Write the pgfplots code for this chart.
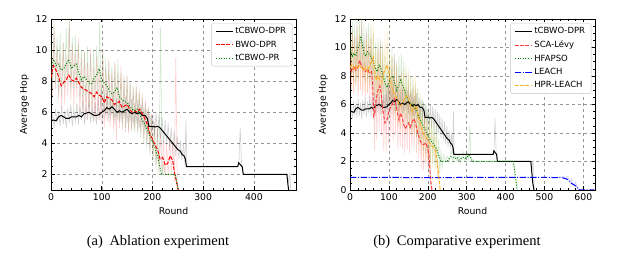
\documentclass[border=0pt]{standalone}
\usepackage{pgfplots}
\pgfplotsset{compat=1.18}
\usepackage{fontspec}
\setmainfont{DejaVu Sans}
\newfontfamily\capfont{Liberation Serif}
\definecolor{mplgreen}{RGB}{0,128,0}
\definecolor{mplorange}{RGB}{255,165,0}
\definecolor{lightred}{RGB}{255,60,60}
\definecolor{lightorange}{RGB}{255,178,40}
\definecolor{gridgray}{RGB}{150,150,150}

\pgfplotstableread{
x y
0 5.5
5 5.5
10 5.45
15 5.7
20 5.8
25 5.7
30 5.6
35 5.6
40 5.7
45 5.7
50 5.7
55 5.8
60 5.7
65 5.9
70 5.95
75 6.0
80 5.9
85 5.8
90 5.8
95 5.85
100 6.0
105 6.1
110 6.3
115 6.2
120 6.35
125 6.2
130 6.0
135 6.1
140 6.0
145 6.1
150 6.2
155 6.0
160 5.9
165 6.0
170 5.9
175 6.0
180 5.8
185 5.8
190 5.6
193 5.1
200 5.1
205 5.05
210 5.1
215 5.0
220 4.8
225 4.6
230 4.4
235 4.2
240 4.0
245 3.8
250 3.6
255 3.5
258 3.3
262 3.2
265 3.0
267 2.5
368 2.5
370 2.75
374 2.6
377 2.5
379 2.0
465 2.0
470 0.5
473 0
}\blackmean

\pgfplotstableread{
x y
0 5.2
3 5.9
6 5.0
9 6.2
12 5.3
15 6.0
18 5.1
21 6.4
24 5.2
27 6.1
30 5.0
33 6.3
36 5.3
39 6.5
42 5.1
45 6.2
48 5.4
51 6.6
54 5.2
57 6.4
60 5.5
63 6.8
66 5.2
69 6.5
72 5.5
75 6.9
78 5.3
81 6.4
84 5.4
87 6.7
90 5.2
93 7.0
96 5.5
99 7.5
102 5.3
105 7.2
108 5.6
111 7.6
114 5.4
117 7.0
120 5.8
123 7.3
126 5.2
129 6.9
132 5.5
135 7.1
138 5.4
141 6.8
144 5.6
147 7.0
150 5.3
153 6.7
156 5.4
159 6.9
162 5.2
165 6.6
168 5.3
171 6.8
174 5.0
177 6.5
180 5.1
183 6.3
186 4.8
189 6.2
192 4.6
195 6.0
198 4.7
201 5.8
204 4.5
207 6.0
210 4.4
213 5.9
216 4.3
219 5.7
222 4.0
225 5.5
228 3.9
231 5.3
234 3.6
237 5.0
240 3.5
243 4.8
246 3.2
249 4.5
252 3.0
255 4.2
258 2.9
261 4.0
264 2.6
266 5.5
268 2.5
370 2.5
373 5.0
376 2.5
380 2.0
465 2.0
468 1.5
471 2.1
474 0
}\blackraw

\pgfplotstableread{
x y
0 8.2
3 8.8
5 9.0
10 8.7
15 8.3
20 7.7
25 7.9
30 8.1
35 8.4
40 8.1
45 8.0
50 8.2
55 7.9
60 7.6
65 7.5
70 7.4
75 7.3
80 7.2
85 7.0
90 7.3
95 7.1
100 7.0
105 6.6
110 7.0
115 6.9
120 6.8
125 6.5
130 6.6
135 6.7
140 6.3
145 6.4
150 6.5
155 6.2
160 6.0
165 6.1
170 6.0
175 6.2
180 5.9
185 5.6
190 5.2
195 4.6
200 4.3
205 3.9
210 3.6
215 3.0
220 3.1
225 2.6
230 2.7
235 3.2
240 2.9
243 2.2
247 1.6
251 1.0
254 0.3
}\redmean

\pgfplotstableread{
x y
0 10.0
3 7.0
6 11.5
9 7.5
12 10.2
15 6.8
18 9.8
21 6.2
24 10.5
27 6.5
30 9.6
33 7.0
36 12.0
39 6.8
42 10.4
45 6.3
48 9.9
51 6.9
54 10.8
57 5.9
60 9.5
63 6.0
66 9.8
69 5.5
72 9.2
75 5.8
78 10.1
81 5.6
84 8.9
87 5.4
90 9.6
93 5.5
96 9.0
99 5.2
102 10.0
105 5.0
108 8.8
111 5.4
114 9.4
117 5.1
120 8.6
123 4.8
126 9.3
129 4.2
132 8.5
135 5.0
138 9.0
141 4.9
144 8.2
147 4.7
150 8.4
153 4.6
156 7.9
159 4.8
162 7.6
165 4.9
168 7.8
171 4.8
174 7.5
177 4.7
180 7.2
183 4.3
186 6.8
189 4.0
192 6.4
195 3.5
198 5.9
201 3.0
204 5.4
207 2.6
210 5.0
213 2.2
216 4.6
219 2.0
222 4.2
225 1.8
228 4.0
231 1.9
234 4.4
237 2.0
240 4.1
243 1.5
246 9.5
249 1.0
252 0.5
}\redraw

\pgfplotstableread{
x y
0 9.0
5 9.4
10 9.0
15 9.1
20 8.7
25 8.8
30 9.1
35 9.4
40 8.8
45 9.0
50 9.1
55 8.5
60 8.1
65 8.3
70 8.1
75 7.9
80 7.8
85 8.2
90 8.4
95 8.8
100 8.1
105 7.9
110 7.7
115 7.4
120 7.2
125 7.3
130 7.6
135 7.0
140 6.8
145 6.7
150 6.6
155 6.4
160 6.2
165 6.1
170 6.2
175 5.9
180 5.5
185 5.2
190 4.9
195 4.5
200 4.1
205 3.7
210 3.2
214 2.6
218 2.0
245 2.0
248 1.5
251 1.0
254 0.3
}\greenmean

\pgfplotstableread{
x y
0 11.0
3 7.5
6 11.8
9 7.8
12 10.9
15 7.2
18 11.2
21 7.0
24 10.5
27 7.6
30 11.4
33 8.0
36 12.0
39 7.3
42 10.8
45 7.5
48 11.0
51 7.6
54 10.4
57 6.8
60 10.0
63 6.5
66 9.9
69 6.6
72 10.2
75 6.2
78 9.7
81 6.3
84 10.0
87 6.8
90 10.3
93 6.9
96 12.0
99 6.5
102 10.0
105 6.2
108 9.5
111 5.9
114 9.3
117 5.6
120 9.0
123 5.5
126 9.2
129 5.7
132 9.4
135 5.4
138 8.6
141 5.2
144 8.4
147 5.0
150 8.3
153 4.9
156 8.0
159 4.8
162 7.7
165 4.7
168 7.6
171 4.6
174 7.3
177 4.4
180 6.9
183 4.0
186 6.6
189 3.6
192 6.2
195 3.2
198 5.8
201 2.8
204 5.2
207 2.4
210 4.6
213 2.0
216 11.5
219 2.0
222 2.6
225 2.0
245 2.0
248 1.5
251 1.0
253 0.5
}\greenraw

\pgfplotstableread{
x y
0 8.5
5 8.3
10 8.7
15 8.4
20 8.6
25 9.1
30 8.7
35 8.4
40 8.3
45 8.5
50 8.2
55 8.3
58 7.6
61 5.2
64 5.5
67 6.3
72 7.0
77 7.3
80 6.8
85 5.5
90 4.7
95 4.9
100 5.6
105 5.8
110 6.1
115 6.4
118 6.0
122 5.4
126 4.9
130 5.4
134 5.1
138 4.6
142 4.3
146 4.5
150 4.7
155 4.4
160 4.8
165 5.0
170 4.5
175 3.9
180 3.5
185 3.2
190 3.2
195 3.3
200 2.9
203 2.5
206 1.2
209 0.3
211 0
}\scamean

\pgfplotstableread{
x y
0 10.5
3 7.0
6 11.2
9 6.8
12 10.8
15 7.2
18 11.5
21 6.5
24 10.9
27 7.0
30 12.0
33 6.6
36 10.5
39 6.4
42 11.0
45 6.8
48 10.2
51 6.2
54 10.6
57 5.5
60 9.5
63 2.8
66 8.5
69 3.5
72 9.8
75 4.2
78 10.4
81 3.8
84 9.0
87 2.7
90 7.5
93 2.6
96 8.0
99 3.2
102 8.6
105 3.6
108 9.2
111 3.4
114 9.6
117 3.9
120 8.8
123 2.8
126 7.9
129 3.0
132 8.3
135 2.9
138 7.2
141 2.5
144 7.0
147 2.8
150 7.4
153 2.6
156 6.9
159 3.0
162 7.3
165 2.9
168 7.0
171 2.6
174 6.2
177 2.2
180 5.6
183 1.5
186 5.0
189 1.4
192 5.2
195 1.6
198 4.6
201 1.2
204 3.8
207 0.4
210 0
}\scaraw

\pgfplotstableread{
x y
0 8.6
5 8.8
10 8.5
15 8.7
20 8.5
25 8.8
30 8.6
35 8.4
40 8.6
45 8.3
50 8.7
55 9.0
60 9.3
63 8.3
68 7.7
72 8.0
77 7.7
82 7.5
86 8.2
90 8.4
95 8.8
100 8.2
104 7.6
108 7.2
112 6.9
116 6.6
120 6.5
125 6.1
130 5.9
135 6.1
140 6.4
145 6.6
150 6.4
155 6.0
160 5.5
165 5.8
170 5.9
174 5.4
178 4.9
182 4.5
186 4.2
190 3.9
195 3.7
200 3.5
205 3.3
210 3.1
215 3.0
220 2.8
224 2.0
228 1.0
232 0
}\hprmean

\pgfplotstableread{
x y
0 10.5
3 7.2
6 11.0
9 7.0
12 10.2
15 7.3
18 10.8
21 6.9
24 11.5
27 7.4
30 10.4
33 7.0
36 10.1
39 6.8
42 10.6
45 6.9
48 10.9
51 7.1
54 11.6
57 7.6
60 12.0
63 6.5
66 9.9
69 6.0
72 10.2
75 5.8
78 9.6
81 6.1
84 10.5
87 6.7
90 11.0
93 6.8
96 11.4
99 6.5
102 9.8
105 5.6
108 9.3
111 5.2
114 8.8
117 4.9
120 8.6
123 4.4
126 8.0
129 4.1
132 8.2
135 4.5
138 8.5
141 4.7
144 8.9
147 4.6
150 8.5
153 4.2
156 8.0
159 3.6
162 7.9
165 3.9
168 8.1
171 3.8
174 7.2
177 3.1
180 6.5
183 2.6
186 6.0
189 2.3
192 5.5
195 2.0
198 5.3
201 1.9
204 5.0
207 1.6
210 4.8
213 1.5
216 4.5
219 1.3
222 4.0
225 0.8
228 2.0
231 0
}\hprraw

\pgfplotstableread{
x y
0 10.0
3 9.7
6 9.4
10 9.6
15 9.4
20 9.9
25 10.3
28 10.8
32 10.2
36 9.6
40 9.4
45 9.7
50 9.5
55 9.3
60 9.0
65 8.6
70 8.3
75 8.8
80 8.5
85 8.0
90 7.5
95 7.2
100 7.5
105 7.9
110 8.0
115 7.5
120 7.0
125 7.3
130 7.7
135 7.4
140 7.0
145 6.6
150 6.3
155 6.1
160 6.0
165 5.8
170 5.6
175 5.3
180 5.0
185 4.7
190 4.4
195 4.1
200 3.8
205 3.6
210 3.4
215 3.2
220 3.0
225 2.7
230 2.3
235 2.0
250 2.0
255 2.2
260 2.35
265 2.3
270 2.2
275 2.3
280 2.1
285 2.2
290 2.3
295 2.2
300 2.3
305 2.45
310 2.3
315 2.0
420 2.0
425 1.0
430 0
}\hfamean

\pgfplotstableread{
x y
0 12.0
3 8.0
6 11.8
9 7.6
12 11.6
15 7.5
18 12.0
21 7.8
24 12.0
27 8.6
30 12.0
33 8.2
36 11.6
39 7.5
42 11.4
45 7.8
48 11.7
51 7.4
54 11.3
57 7.1
60 11.0
63 6.7
66 10.4
69 6.4
72 10.7
75 6.8
78 10.6
81 6.2
84 9.9
87 5.9
90 9.4
93 5.5
96 9.0
99 5.6
102 9.6
105 6.0
108 10.0
111 6.1
114 9.5
117 5.5
120 9.0
123 5.3
126 9.4
129 5.8
132 9.6
135 5.4
138 9.0
141 5.0
144 8.5
147 4.6
150 8.1
153 4.3
156 7.9
159 4.1
162 7.7
165 4.0
168 7.5
171 3.7
174 7.1
177 3.4
180 6.8
183 3.1
186 6.4
189 2.8
192 6.0
195 2.5
198 5.7
201 2.2
204 5.4
207 2.0
210 5.1
213 1.8
216 4.9
219 1.6
222 4.5
225 1.5
228 3.6
231 1.2
234 2.8
237 1.5
240 2.5
245 2.0
250 2.4
255 1.9
260 2.8
265 1.9
270 2.6
275 2.0
280 2.5
285 1.9
290 2.7
295 2.0
300 2.8
305 2.1
308 4.5
311 2.2
315 2.0
420 2.0
425 1.0
430 0
}\hfaraw

\pgfplotstableread{
x y
0 0.88
100 0.88
200 0.87
300 0.88
400 0.88
500 0.89
530 0.87
540 0.88
545 0.86
555 0.80
560 0.72
565 0.60
570 0.45
575 0.38
580 0.30
585 0.15
590 0
628 0
}\leachmean

\pgfplotstableread{
x y
540 0.88
550 0.95
555 0.75
560 0.98
565 0.55
570 0.8
575 0.3
580 0.55
585 0.1
590 0
}\leachraw

\pgfplotsset{
  hopaxis/.style={
    scale only axis, width=245pt, height=171pt,
    anchor=south west,
    xmin=0,
    tick align=inside,
    major tick length=3.5pt, minor tick length=2pt,
    minor x tick num=4, minor y tick num=3,
    grid=major,
    major grid style={dashed, gridgray, line width=0.4pt},
    every tick/.style={black, line width=0.5pt},
    axis line style={line width=0.6pt},
    ticklabel style={font=\fontsize{9.3}{11}\selectfont},
    label style={font=\fontsize{9.3}{11}\selectfont},
    /pgf/number format/assume math mode=true,
    xlabel={Round}, ylabel={Average Hop},
    ytick={0,2,...,12},
    legend cell align=left,
    legend style={font=\fontsize{8.5}{10}\selectfont, at={(0.985,0.975)}, anchor=north east,
      draw=gray!45, rounded corners=2pt, fill=white, text opacity=1,
      row sep=1.6pt, inner xsep=4pt, inner ysep=2pt},
    legend image code/.code={\draw[#1] (0pt,0pt) -- (17pt,0pt);},
  },
  raw/.style={forget plot, line width=0.6pt, opacity=0.18},
  mdash/.style={dash pattern=on 3.7pt off 1.6pt},
  mdot/.style={dash pattern=on 1pt off 1.65pt},
  mdashdot/.style={dash pattern=on 6.4pt off 1.6pt on 1pt off 1.6pt},
}

\begin{document}
\begin{tikzpicture}[x=1pt,y=1pt]
\useasboundingbox (0,0) rectangle (638,264);
\begin{axis}[hopaxis, at={(51pt,74pt)}, xmax=483, ymin=1, ymax=12, xtick={0,100,...,400}]
\addplot[raw, black] table {\blackraw};
\addplot[raw, red] table {\redraw};
\addplot[raw, mplgreen] table {\greenraw};
\addplot[black, line width=1pt] table {\blackmean};
\addlegendentry{tCBWO-DPR}
\addplot[red, line width=1pt, mdash] table {\redmean};
\addlegendentry{BWO-DPR}
\addplot[mplgreen, line width=1pt, mdot] table {\greenmean};
\addlegendentry{tCBWO-PR}
\end{axis}
\begin{axis}[hopaxis, at={(350pt,74pt)}, xmax=630, ymin=0, ymax=12, xtick={0,100,...,600}]
\addplot[raw, black] table {\blackraw};
\addplot[raw, red] table {\scaraw};
\addplot[raw, mplgreen] table {\hfaraw};
\addplot[raw, blue] table {\leachraw};
\addplot[raw, mplorange] table {\hprraw};
\addplot[black, line width=1pt] table {\blackmean};
\addlegendentry{tCBWO-DPR}
\addplot[lightred, line width=1pt, mdash] table {\scamean};
\addlegendentry{SCA-Lévy}
\addplot[mplgreen, line width=1pt, mdot] table {\hfamean};
\addlegendentry{HFAPSO}
\addplot[blue, line width=1pt, mdashdot] table {\leachmean};
\addlegendentry{LEACH}
\addplot[lightorange, line width=1pt, mdash] table {\hprmean};
\addlegendentry{HPR-LEACH}
\end{axis}
\node[font=\capfont\fontsize{14.5}{16}\selectfont] at (158,22) {(a)\hspace{0.45em}Ablation experiment};
\node[font=\capfont\fontsize{14.5}{16}\selectfont] at (457,22) {(b)\hspace{0.45em}Comparative experiment};
\end{tikzpicture}
\end{document}
